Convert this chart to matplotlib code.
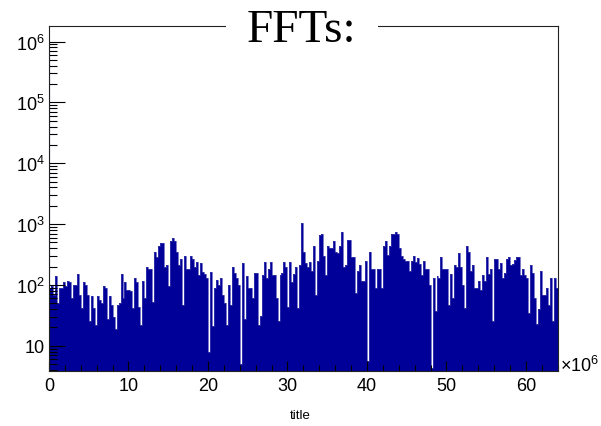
import numpy as np
import matplotlib
matplotlib.use("Agg")
import matplotlib.pyplot as plt
from matplotlib.ticker import MultipleLocator, LogLocator, NullFormatter, FixedLocator, FixedFormatter

plt.rcParams['font.family'] = ['Liberation Sans', 'DejaVu Sans']
plt.rcParams['mathtext.fontset'] = 'custom'
plt.rcParams['mathtext.rm'] = 'Liberation Sans'
plt.rcParams['mathtext.it'] = 'Liberation Sans:italic'

# FFT magnitudes, 256 bins over 0 .. 64e6
counts_0_16 = [88, 95, 68, 138, 50, 88, 88, 113, 95, 118, 113, 60, 100, 100, 154, 68,
               41, 113, 100, 68, 26, 65, 41, 22, 65, 56, 50, 95, 88, 28, 65, 46,
               30, 19, 46, 50, 154, 60, 113, 82, 82, 78, 41, 128, 113, 44, 22, 118,
               60, 200, 185, 185, 53, 350, 290, 430, 480, 480, 200, 210, 95, 530, 580, 520]
counts_16_32 = [350, 210, 270, 46, 300, 185, 185, 300, 270, 200, 240, 143, 225, 165, 150, 128,
                8, 165, 21, 88, 120, 100, 128, 68, 50, 22, 100, 46, 200, 160, 128, 100,
                5, 225, 28, 140, 88, 88, 60, 155, 155, 22, 31, 143, 240, 130, 185, 240,
                143, 143, 60, 26, 143, 160, 240, 200, 44, 240, 113, 150, 200, 41, 210, 1050]
counts_32_48 = [350, 225, 200, 240, 170, 440, 68, 250, 650, 700, 300, 143, 440, 400, 400, 520,
                350, 330, 440, 750, 200, 210, 540, 540, 290, 290, 73, 170, 210, 118, 118, 250,
                5.7, 350, 185, 185, 88, 185, 185, 90, 430, 520, 305, 430, 700, 700, 750, 700,
                400, 300, 270, 250, 250, 170, 250, 300, 240, 280, 220, 143, 250, 185, 185, 100]
counts_48_64 = [4.3, 128, 37, 140, 130, 290, 185, 185, 185, 46, 150, 60, 210, 200, 330, 200,
                100, 41, 430, 350, 170, 210, 88, 88, 118, 81, 143, 118, 290, 150, 185, 26,
                270, 270, 185, 225, 128, 160, 270, 290, 210, 220, 260, 290, 290, 143, 185, 143,
                130, 34, 210, 160, 60, 23, 40, 170, 68, 68, 88, 46, 128, 26, 128, 88]
dc_x = 0.0
dc_value = 1.0e6

x_min, x_max = 0, 64
y_min, y_max = 3.85, 1.8e6
ytick_vals = [10, 1e2, 1e3, 1e4, 1e5, 1e6]
ytick_labels = ['10', r'$10^{2}$', r'$10^{3}$', r'$10^{4}$', r'$10^{5}$', r'$10^{6}$']

counts = np.array(counts_0_16 + counts_16_32 + counts_32_48 + counts_48_64, dtype=float)
edges = np.linspace(x_min, x_max, len(counts) + 1)

fig = plt.figure(figsize=(6.01, 4.27), dpi=100)
ax = fig.add_axes([0.0815, 0.1288, 0.8465, 0.808])
ax.set_yscale('log')

navy = '#000099'
ax.stairs(counts, edges, fill=True, color=navy, baseline=1.0)
ax.stairs(counts, edges, color='#4040b0', linewidth=0.5, baseline=1.0)
ax.vlines(dc_x, y_min, dc_value, color=navy, linewidth=1.5)

ax.set_xlim(x_min, x_max)
ax.set_ylim(y_min, y_max)

ax.xaxis.set_major_locator(MultipleLocator(10))
ax.xaxis.set_minor_locator(MultipleLocator(2))
ax.yaxis.set_major_locator(FixedLocator(ytick_vals))
ax.yaxis.set_major_formatter(FixedFormatter(ytick_labels))
ax.yaxis.set_minor_locator(LogLocator(base=10, subs=range(2, 10)))
ax.yaxis.set_minor_formatter(NullFormatter())

ax.tick_params(axis='both', which='both', direction='in', top=False, right=False,
               labelsize=13, width=0.8, color='black')
ax.tick_params(axis='y', which='major', length=11.5, pad=3)
ax.tick_params(axis='y', which='minor', length=6)
ax.tick_params(axis='x', which='major', length=7.2, pad=4)
ax.tick_params(axis='x', which='minor', length=4.3)
for s in ax.spines.values():
    s.set_linewidth(0.8)
    s.set_color('#222222')

fig.text(0.502, 0.9024, 'FFTs:', family='Liberation Serif', fontsize=34,
         ha='center', va='baseline',
         bbox=dict(boxstyle='square,pad=0.45', facecolor='white', edgecolor='none'))
fig.text(0.9315, 0.128, r'$\times 10^{6}$', fontsize=13, ha='left', va='baseline')
fig.text(0.5, 0.0246, 'title', fontsize=9.5, ha='center', va='center')

fig.savefig('out.png', dpi=100)
